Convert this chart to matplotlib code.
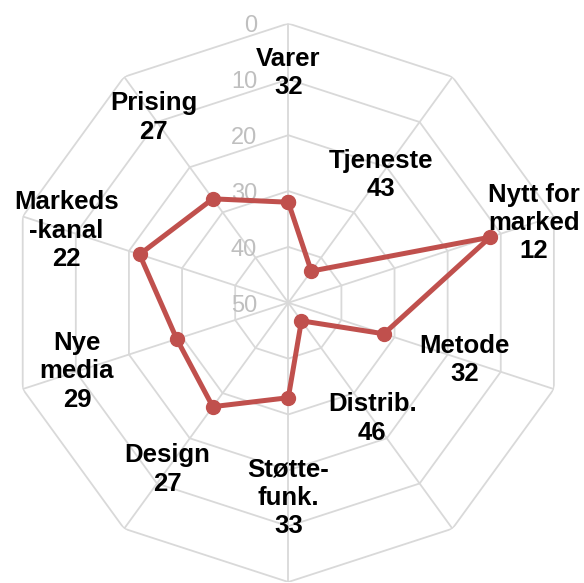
import numpy as np
import matplotlib
matplotlib.use("Agg")
from matplotlib import pyplot as plt

# kategorier og verdier (skalaen er snudd: 0 ytterst, 50 i midten)
categories = ["Varer", "Tjeneste", "Nytt for\nmarked", "Metode", "Distrib.",
              "Støtte-\nfunk.", "Design", "Nye\nmedia", "Markeds\n-kanal", "Prising"]
values = [32, 43, 12, 32, 46, 33, 27, 29, 22, 27]
levels = [0, 10, 20, 30, 40, 50]
# hvor på skalaen etikettene står
label_pos = [8.8, 21.7, 3.8, 16.8, 24.4, 15.1, 13.1, 10.2, 8.2, 9.0]

plt.rcParams['font.family'] = ['Liberation Sans', 'DejaVu Sans']

fig = plt.figure(figsize=(5.84, 5.83), dpi=100)
ax = fig.add_axes([0.0154, 0.0017, 0.9565, 0.9580], projection='polar')
ax.set_theta_zero_location('N')
ax.set_theta_direction(-1)
ax.set_ylim(50, 0)
ax.grid(False)
ax.spines['polar'].set_visible(False)
ax.set_xticks([])
ax.set_yticks([])
ax.patch.set_alpha(0)

n = len(categories)
angles = np.linspace(0, 2 * np.pi, n, endpoint=False)
closed = np.append(angles, angles[0])

grid_col = '#d9d9d9'
for lv in levels[:-1]:
    ax.plot(closed, [lv] * (n + 1), color=grid_col, lw=1.3, zorder=1)
for a in angles:
    ax.plot([a, a], [50, 0], color=grid_col, lw=1.3, zorder=1)

for lv in levels:
    ax.annotate(str(lv), xy=(0, lv), xytext=(-22.5, -2), textcoords='offset points',
                ha='right', va='center', fontsize=17, color='#bfbfbf', zorder=2)

ax.plot(closed, values + values[:1], color='#c0504d', lw=3.6, marker='o',
        markersize=10, zorder=3, clip_on=False)

for a, name, v, r in zip(angles, categories, values, label_pos):
    ax.text(a, r, f"{name}\n{v}", ha='center', va='center', fontsize=18.5,
            fontweight='bold', linespacing=1.22, zorder=4)

fig.savefig("out.png", dpi=100)
